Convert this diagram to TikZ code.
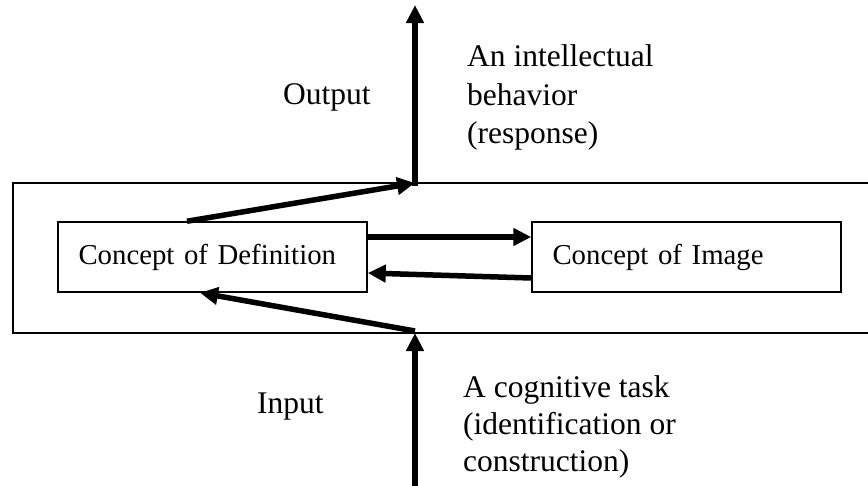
\documentclass[tikz,border=0pt]{standalone}
\usepackage{fontspec}
\setmainfont{Liberation Serif}
\usetikzlibrary{arrows.meta}
\begin{document}
\begin{tikzpicture}[x=1pt,y=-1pt,
  txt/.style={font=\fontsize{31.5}{40}\selectfont, inner sep=0pt},
  conceptbox/.style={draw, line width=1.5pt, minimum width=309pt, minimum height=70pt,
    text width=268pt, inner xsep=20pt, align=left, font=\fontsize{28.8}{36}\selectfont},
  bigarrow/.style={line width=5.5pt, -{Triangle[length=18pt,width=17pt]}}]
\useasboundingbox (0,0) rectangle (868,485);
% outer frame (open to the right)
\draw[line width=1.5pt] (868,183) -- (13,183) -- (13,333) -- (868,333);
% concept boxes
\node[conceptbox] (def) at (212.5,257) {Concept of Definition};
\node[conceptbox] (img) at (686.5,257) {Concept of Image};
% junction points
\coordinate (jo) at (415,183);
\coordinate (otip) at (415,5);
\coordinate (ji) at (415,333);
\coordinate (itail) at (415,486);
% arrows between boxes
\draw[bigarrow] ([yshift=20pt]def.east) -- ([yshift=20pt]img.west);
\draw[bigarrow] ([yshift=-21pt]img.west) -- ([yshift=-16pt]def.east);
% output
\draw[bigarrow] ([xshift=-25.5pt]def.north) -- (jo);
\draw[bigarrow] ([yshift=-2.5pt]jo) -- (otip);
% input
\draw[bigarrow] (itail) -- (ji);
\draw[bigarrow] ([yshift=2pt]ji) -- ([xshift=-12.5pt]def.south);
% labels
\node[txt, anchor=base west] (outlbl) at (283,104) {Output};
\node[txt, anchor=base west] (o1) at (467,66) {An intellectual};
\node[txt, anchor=base west] (o2) at (467,105) {behavior};
\node[txt, anchor=base west] (o3) at (467,143) {(response)};
\node[txt, anchor=base west] (inlbl) at (257,413) {Input};
\node[txt, anchor=base west] (i1) at (463,397) {A cognitive task};
\node[txt, anchor=base west] (i2) at (463,434) {(identification or};
\node[txt, anchor=base west] (i3) at (463,471) {construction)};
\end{tikzpicture}
\end{document}
